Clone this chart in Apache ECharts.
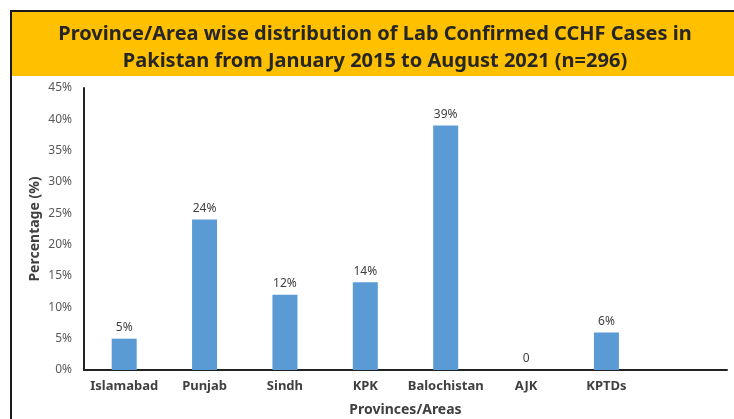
<!DOCTYPE html>
<html lang="en">
<head>
    <meta charset="UTF-8">
    <title>CCHF cases by province</title>
    <script src="https://cdn.jsdelivr.net/npm/echarts@6/dist/echarts.min.js"></script>
    <style>
        html, body { margin: 0; padding: 0; background: #fff; }
        #chart { width: 734px; height: 419px; }
    </style>
</head>
<body>
<div id="chart"></div>
<script>
    // categories (last slot is empty in the original)
    var provinces = ['Islamabad', 'Punjab', 'Sindh', 'KPK', 'Balochistan', 'AJK', 'KPTDs', ''];
    var percentValues = [5, 24, 12, 14, 39, 0, 6, null];
    var yTicks = [0, 5, 10, 15, 20, 25, 30, 35, 40, 45];

    var font = 'Noto Sans';
    var mychart = echarts.init(document.getElementById('chart'));

    var option = {
        animation: false,
        backgroundColor: '#fff',
        title: {
            text: 'Province/Area wise distribution of Lab Confirmed CCHF Cases in\nPakistan from January 2015 to August 2021 (n=296)',
            left: 370,
            top: 16,
            textAlign: 'center',
            textStyle: {fontFamily: font, fontWeight: 'bold', fontSize: 20, color: '#262626', lineHeight: 27}
        },
        graphic: [
            {
                type: 'rect',
                shape: {x: 11, y: 11, width: 740, height: 65},
                style: {fill: '#FFC000'},
                z: -1
            },
            {
                type: 'polyline',
                shape: {points: [[11, 419], [11, 11], [734, 11]]},
                style: {stroke: '#1a1a1a', lineWidth: 2, fill: null}
            }
        ],
        grid: {
            left: 84,
            right: 7,
            top: 88,
            bottom: 49,
            outerBoundsMode: 'none',
            containLabel: false
        },
        xAxis: {
            type: 'category',
            data: provinces,
            name: 'Provinces/Areas',
            nameLocation: 'middle',
            nameGap: 33,
            nameTextStyle: {fontFamily: font, fontWeight: 'bold', fontSize: 14, color: '#404040'},
            axisLine: {lineStyle: {color: '#222', width: 2}},
            axisTick: {show: false},
            axisLabel: {fontFamily: font, fontWeight: 'bold', fontSize: 13, color: '#404040', margin: 10, interval: 0}
        },
        yAxis: {
            type: 'value',
            min: yTicks[0],
            max: yTicks[yTicks.length - 1],
            interval: 5,
            name: 'Percentage (%)',
            nameLocation: 'middle',
            nameGap: 42,
            nameMoveOverlap: false,
            nameTextStyle: {fontFamily: font, fontWeight: 'bold', fontSize: 14, color: '#404040'},
            axisLine: {show: true, lineStyle: {color: '#222', width: 2}},
            axisTick: {show: false},
            splitLine: {show: false},
            axisLabel: {fontFamily: font, fontSize: 12, color: '#595959', margin: 12, formatter: '{value}%'}
        },
        series: [{
            type: 'bar',
            data: percentValues,
            barWidth: 25,
            itemStyle: {color: '#5B9BD5'},
            label: {
                show: true,
                position: 'top',
                distance: 5,
                fontFamily: font,
                fontSize: 12,
                color: '#404040',
                formatter: function (p) {
                    if (p.value === null || p.value === undefined) return '';
                    return p.value === 0 ? '0' : p.value + '%';
                }
            }
        }]
    };
    mychart.setOption(option);
</script>
</body>
</html>
